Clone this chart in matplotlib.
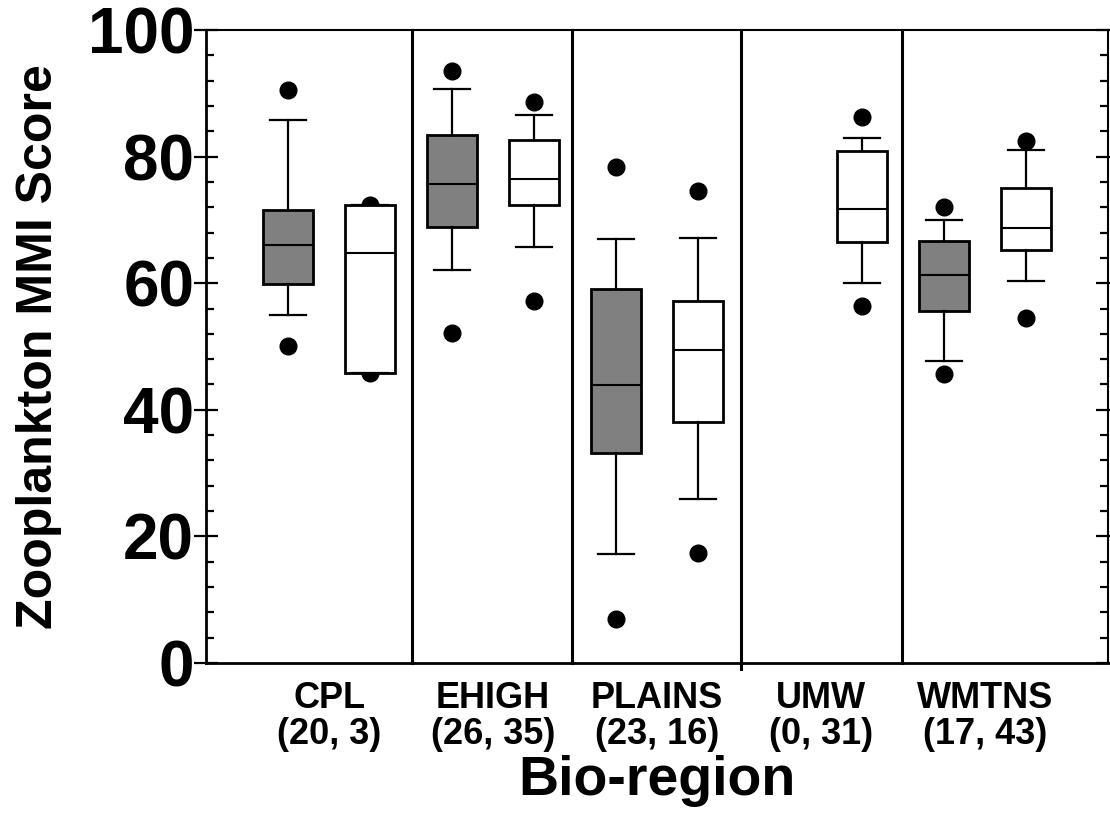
import matplotlib
matplotlib.use("Agg")
import matplotlib.pyplot as plt
from matplotlib.ticker import MultipleLocator

plt.rcParams['font.family'] = ['Liberation Sans', 'DejaVu Sans']
plt.rcParams['font.weight'] = 'bold'

# -----------------------------
# data
# -----------------------------
regions = ['CPL', 'EHIGH', 'PLAINS', 'UMW', 'WMTNS']
n_gray = [20, 26, 23, 0, 17]
n_white = [3, 35, 16, 31, 43]

# gray series (None = no sites)
gray_lo_out = [50.1, 52.2, 6.9, None, 45.6]
gray_whislo = [54.9, 62.1, 17.2, None, 47.7]
gray_q1 = [59.9, 68.9, 33.2, None, 55.6]
gray_med = [66.1, 75.6, 43.9, None, 61.3]
gray_q3 = [71.6, 83.4, 59.1, None, 66.7]
gray_whishi = [85.8, 90.7, 67.0, None, 70.0]
gray_hi_out = [90.6, 93.6, 78.3, None, 72.1]

# white series
white_lo_out = [45.8, 57.2, 17.4, 56.4, 54.5]
white_whislo = [45.8, 65.8, 25.9, 60.1, 60.4]
white_q1 = [45.8, 72.3, 38.0, 66.5, 65.2]
white_med = [64.7, 76.5, 49.4, 71.8, 68.8]
white_q3 = [72.3, 82.7, 57.2, 80.9, 75.0]
white_whishi = [72.3, 86.5, 67.2, 83.0, 81.0]
white_hi_out = [72.3, 88.6, 74.6, 86.3, 82.5]

# region dividers on the x axis
dividers = [2.51, 4.46, 6.52, 8.49]


def make_stats(lo_out, whislo, q1, med, q3, whishi, hi_out):
    out = []
    for i in range(len(med)):
        if med[i] is None:
            out.append(None)
            continue
        out.append(dict(whislo=whislo[i], q1=q1[i], med=med[i], q3=q3[i],
                        whishi=whishi[i], fliers=[lo_out[i], hi_out[i]]))
    return out


gray_stats = make_stats(gray_lo_out, gray_whislo, gray_q1, gray_med,
                        gray_q3, gray_whishi, gray_hi_out)
white_stats = make_stats(white_lo_out, white_whislo, white_q1, white_med,
                         white_q3, white_whishi, white_hi_out)

# -----------------------------
# plot
# -----------------------------
fig = plt.figure(figsize=(11.1, 8.16), dpi=100)
ax = fig.add_axes([0.1856, 0.1875, 0.8126, 0.7757])

common = dict(widths=0.6, capwidths=0.43, patch_artist=True, manage_ticks=False,
              medianprops=dict(color='black', linewidth=1.5),
              whiskerprops=dict(color='black', linewidth=1.6),
              capprops=dict(color='black', linewidth=1.6),
              flierprops=dict(marker='o', markerfacecolor='black',
                              markeredgecolor='black', markersize=12, zorder=1))

for stats, offset, fc in [(gray_stats, 1, '#808080'), (white_stats, 2, 'white')]:
    pos = [2 * i + offset for i, s in enumerate(stats) if s is not None]
    st = [s for s in stats if s is not None]
    ax.bxp(st, positions=pos,
           boxprops=dict(facecolor=fc, edgecolor='black', linewidth=2, zorder=2),
           **common)

for i, x in enumerate(dividers):
    drop = 0.01 if i == 2 else 0.0
    ax.axvline(x, ymin=-drop, ymax=1, color='black', linewidth=2.2,
               clip_on=False, zorder=3)

ax.set_xlim(0, 11)
ax.set_ylim(0, 100)

ax.yaxis.set_major_locator(MultipleLocator(20))
ax.yaxis.set_minor_locator(MultipleLocator(4))
ax.tick_params(axis='y', which='major', direction='inout', length=17, width=1.6,
               left=True, right=True, labelsize=46, pad=0)
ax.tick_params(axis='y', which='minor', direction='in', length=6, width=1.6,
               left=True, right=True)

ax.set_xticks([2 * i + 1.5 for i in range(len(regions))])
ax.set_xticklabels([f"{r}\n({a}, {b})" for r, a, b in zip(regions, n_gray, n_white)],
                   fontsize=26, linespacing=1.05)
ax.tick_params(axis='x', which='both', length=0, pad=13)

for side in ['left', 'bottom']:
    ax.spines[side].set_linewidth(2)
for side in ['top', 'right']:
    ax.spines[side].set_linewidth(1.5)

ax.set_ylabel("Zooplankton MMI Score", fontsize=36, fontweight='bold')
ax.yaxis.set_label_coords(-0.160, 0.5)
ax.set_xlabel("Bio-region", fontsize=40, fontweight='bold')
ax.xaxis.set_label_coords(0.5, -0.146)

fig.savefig("out.png", dpi=100)
